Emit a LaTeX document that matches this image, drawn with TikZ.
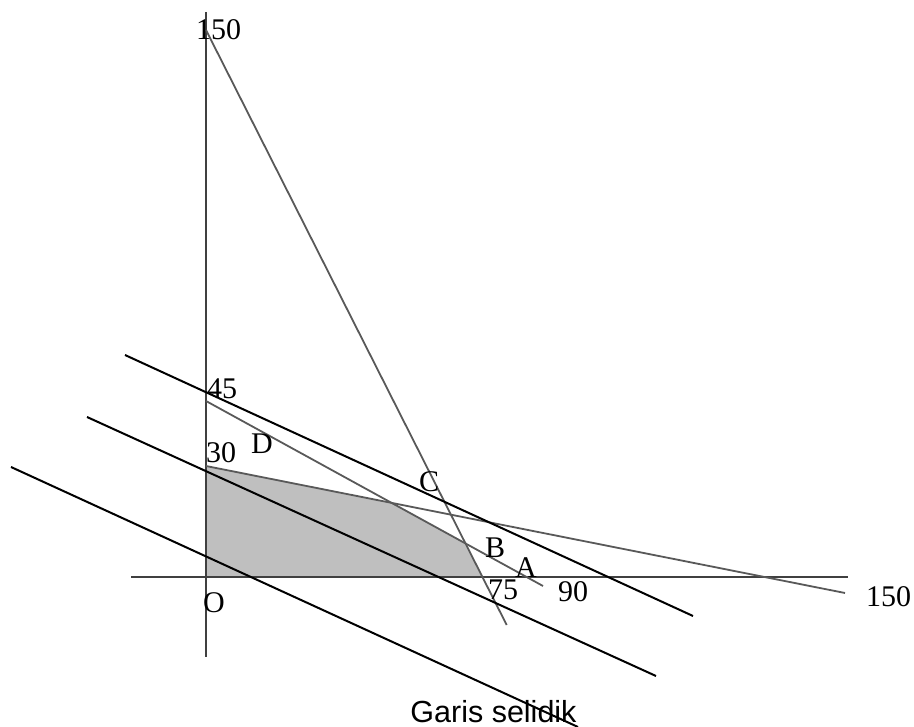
\documentclass[tikz,border=0pt]{standalone}
\usepackage{fontspec}
\setmainfont{Liberation Serif}
\newfontfamily\garisfont{Liberation Sans}
\begin{document}
\begin{tikzpicture}[x=1pt,y=-1pt,
  lbl/.style={anchor=base west, inner sep=0pt, font=\fontsize{30}{36}\selectfont},
  axisline/.style={line width=2pt, black!75},
  cons/.style={line width=1.8pt, black!65},
  iso/.style={line width=2pt, black}]
\useasboundingbox (0,0) rectangle (914,727);
% key points
\coordinate (O) at (206,577);
\coordinate (Y30) at (206,466);
\coordinate (Y45) at (206,401);
\coordinate (Y150) at (206,30);
\coordinate (P1) at (391.7,503);
\coordinate (P2) at (464.5,542.9);
\coordinate (X75) at (481.7,577);
\coordinate (L45end) at (543,586);
\coordinate (L30end) at (845,593);
\coordinate (Send) at (506.7,625);
\coordinate (YT) at (206,12);
\coordinate (YB) at (206,657);
\coordinate (XL) at (131,577);
\coordinate (XR) at (848,577);
% feasible region
\fill[gray!50] (O) -- (Y30) -- (P1) -- (P2) -- (X75) -- cycle;
% axes
\draw[axisline] (YT) -- (YB);
\draw[axisline] (XL) -- (XR);
% constraint lines
\draw[cons] (Y150) -- (Send);
\draw[cons] (Y45) -- (L45end);
\draw[cons] (Y30) -- (L30end);
% isolines (garis selidik)
\coordinate (I1a) at (125,355); \coordinate (I1b) at (693,616);
\coordinate (I2a) at (87,417);  \coordinate (I2b) at (656,676);
\coordinate (I3a) at (11,467);  \coordinate (I3b) at (578,727);
\draw[iso] (I1a) -- (I1b);
\draw[iso] (I2a) -- (I2b);
\draw[iso] (I3a) -- (I3b);
% labels
\node[lbl] (t150) at (196,40) {150};
\node[lbl] (t45) at (207,399) {45};
\node[lbl] (t30) at (206,463) {30};
\node[lbl] (tD) at (251,454) {D};
\node[lbl] (tC) at (419,492) {C};
\node[lbl] (tB) at (485,557) {B};
\node[lbl] (tA) at (515,577) {A};
\node[lbl] (t75) at (488,599) {75};
\node[lbl] (t90) at (558,601) {90};
\node[lbl] (r150) at (866,606) {150};
\node[lbl] (tO) at (203,612) {O};
\node[anchor=base, inner sep=0pt, font=\garisfont\fontsize{30.5}{36}\selectfont] (gs) at (493.5,722) {Garis selidik};
\end{tikzpicture}
\end{document}
